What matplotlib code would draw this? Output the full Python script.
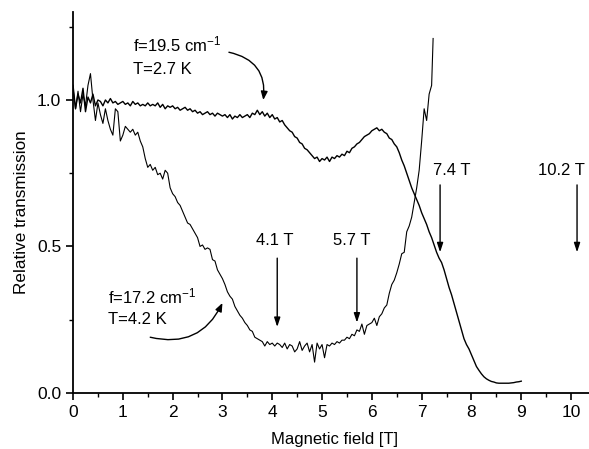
import numpy as np
import matplotlib
matplotlib.use("Agg")
import matplotlib.pyplot as plt

plt.rcParams['font.family'] = ['Liberation Sans', 'DejaVu Sans']
plt.rcParams['mathtext.fontset'] = 'custom'
plt.rcParams['mathtext.rm'] = 'Liberation Sans'
plt.rcParams['mathtext.it'] = 'Liberation Sans:italic'
plt.rcParams['mathtext.bf'] = 'Liberation Sans:bold'

# ---- data ----
# f = 19.5 cm^-1, T = 2.7 K ; field 0 .. 9.0 T in 0.05 T steps
field_a = np.round(np.arange(0, 9.001, 0.05), 2)
trans_a = [
    1.05, 0.97, 1.02, 0.99, 1.04, 0.96, 1.01, 0.99, 1.02, 0.98,
    1.00, 0.995, 0.98, 1.00, 0.99, 1.005, 0.99, 0.995, 0.985, 0.99,
    0.995, 0.985, 0.99, 0.98, 0.995, 0.985, 0.99, 0.98, 0.985, 0.98,
    0.99, 0.98, 0.985, 0.98, 0.99, 0.975, 0.985, 0.97, 0.98, 0.975,
    0.98, 0.97, 0.975, 0.965, 0.97, 0.975, 0.965, 0.97, 0.96, 0.965,
    0.955, 0.96, 0.95, 0.955, 0.96, 0.95, 0.955, 0.945, 0.955, 0.95,
    0.945, 0.95, 0.94, 0.95, 0.935, 0.945, 0.94, 0.95, 0.94, 0.945,
    0.95, 0.94, 0.955, 0.95, 0.965, 0.95, 0.96, 0.945, 0.955, 0.94,
    0.95, 0.935, 0.94, 0.925, 0.93, 0.915, 0.905, 0.895, 0.89, 0.875,
    0.87, 0.855, 0.85, 0.835, 0.83, 0.82, 0.81, 0.80, 0.805, 0.79,
    0.80, 0.795, 0.805, 0.79, 0.805, 0.80, 0.81, 0.805, 0.815, 0.81,
    0.825, 0.82, 0.835, 0.84, 0.85, 0.855, 0.865, 0.875, 0.88, 0.885,
    0.895, 0.90, 0.905, 0.895, 0.90, 0.89, 0.885, 0.87, 0.865, 0.85,
    0.84, 0.82, 0.795, 0.775, 0.75, 0.725, 0.70, 0.68, 0.66, 0.64,
    0.615, 0.595, 0.575, 0.55, 0.53, 0.505, 0.48, 0.46, 0.445, 0.42,
    0.39, 0.36, 0.335, 0.305, 0.275, 0.245, 0.215, 0.185, 0.165, 0.15,
    0.13, 0.11, 0.09, 0.077, 0.065, 0.055, 0.048, 0.043, 0.039, 0.037,
    0.034, 0.033, 0.033, 0.033, 0.033, 0.033, 0.034, 0.035, 0.037, 0.038,
    0.04,
]

# f = 17.2 cm^-1, T = 4.2 K ; field 0 .. 7.2 T in 0.05 T steps, plus last point
field_b = np.concatenate([np.round(np.arange(0, 7.201, 0.05), 2), [7.23]])
trans_b = [
    1.04, 0.97, 1.03, 0.96, 1.02, 0.98, 1.05, 1.09, 1.00, 0.93,
    0.99, 0.95, 0.92, 0.97, 0.93, 0.90, 0.88, 0.97, 0.96, 0.86,
    0.88, 0.91, 0.90, 0.89, 0.90, 0.88, 0.89, 0.86, 0.84, 0.80,
    0.77, 0.78, 0.76, 0.77, 0.745, 0.75, 0.73, 0.76, 0.75, 0.70,
    0.68, 0.67, 0.65, 0.64, 0.62, 0.60, 0.58, 0.575, 0.56, 0.545,
    0.53, 0.50, 0.505, 0.49, 0.495, 0.49, 0.455, 0.45, 0.42, 0.405,
    0.39, 0.37, 0.345, 0.33, 0.32, 0.295, 0.28, 0.265, 0.255, 0.24,
    0.23, 0.215, 0.21, 0.19, 0.185, 0.18, 0.175, 0.16, 0.175, 0.165,
    0.17, 0.16, 0.17, 0.165, 0.155, 0.17, 0.15, 0.165, 0.16, 0.14,
    0.15, 0.175, 0.145, 0.16, 0.17, 0.14, 0.165, 0.105, 0.17, 0.15,
    0.165, 0.12, 0.165, 0.16, 0.17, 0.165, 0.175, 0.17, 0.18, 0.18,
    0.19, 0.185, 0.20, 0.195, 0.215, 0.21, 0.235, 0.20, 0.23, 0.235,
    0.24, 0.255, 0.23, 0.26, 0.27, 0.29, 0.30, 0.34, 0.37, 0.385,
    0.41, 0.44, 0.475, 0.48, 0.55, 0.57, 0.60, 0.65, 0.70, 0.76,
    0.86, 0.97, 0.93, 1.02, 1.05,
    1.21,
]

# resonance markers
marker_fields = [4.1, 5.7, 7.4, 10.2]
marker_labels = ["4.1 T", "5.7 T", "7.4 T", "10.2 T"]

x_ticks = list(range(0, 11))
y_ticks = [0.0, 0.5, 1.0]
y_tick_labels = ["0.0", "0.5", "1.0"]

FS = 12.5

# ---- figure ----
fig = plt.figure(figsize=(5.89, 4.49), dpi=100)
ax = fig.add_axes([0.124, 0.125, 0.876, 0.848])

ax.plot(field_a, trans_a, color='black', lw=1.0)
ax.plot(field_b, trans_b, color='black', lw=0.8)

ax.set_xlim(0, 10.36)
ax.set_ylim(0, 1.30)

for s in ['top', 'right']:
    ax.spines[s].set_visible(False)
for s in ['left', 'bottom']:
    ax.spines[s].set_linewidth(1.3)

ax.set_xticks(x_ticks)
ax.set_xticks(np.arange(0.5, 10.4, 1.0), minor=True)
ax.set_yticks(y_ticks)
ax.set_yticklabels(y_tick_labels)
ax.set_yticks([0.25, 0.75, 1.25], minor=True)
ax.tick_params(which='major', direction='out', length=5, width=1.2, labelsize=FS)
ax.tick_params(which='minor', direction='out', length=3, width=1.0)

ax.set_xlabel("Magnetic field [T]", fontsize=12)
ax.set_ylabel("Relative transmission", fontsize=12.3)
ax.xaxis.set_label_coords(0.506, -0.104)
ax.yaxis.set_label_coords(-0.085, 0.475)

# curve labels
ax.text(1.21, 1.19, r"f=19.5 cm$^{-1}$", fontsize=12, ha='left', va='center')
ax.text(1.21, 1.105, "T=2.7 K", fontsize=12, ha='left', va='center')
ax.text(0.70, 0.33, r"f=17.2 cm$^{-1}$", fontsize=12, ha='left', va='center')
ax.text(0.70, 0.25, "T=4.2 K", fontsize=12, ha='left', va='center')

# curved arrows
ax.annotate("", xy=(3.82, 1.0), xytext=(3.13, 1.163),
            arrowprops=dict(arrowstyle='-|>,head_length=0.5,head_width=0.2',
                            connectionstyle='arc3,rad=-0.45', color='black', lw=1.0,
                            shrinkA=0, shrinkB=0))
ax.annotate("", xy=(3.0, 0.307), xytext=(1.55, 0.19),
            arrowprops=dict(arrowstyle='-|>,head_length=0.5,head_width=0.2',
                            connectionstyle='arc3,rad=0.4', color='black', lw=1.0,
                            shrinkA=0, shrinkB=0))

# resonance arrows
arrow_x = [4.1, 5.7, 7.37, 10.12]
arrow_top = [0.46, 0.46, 0.71, 0.71]
arrow_tip = [0.225, 0.24, 0.48, 0.48]
label_x = [4.06, 5.60, 7.6, 9.8]
label_y = [0.52, 0.52, 0.76, 0.76]
for xa, lab, yt, yb, lx, ly in zip(arrow_x, marker_labels, arrow_top,
                                   arrow_tip, label_x, label_y):
    ax.annotate("", xy=(xa, yb), xytext=(xa, yt),
                arrowprops=dict(arrowstyle='-|>,head_length=0.55,head_width=0.18',
                                color='black', lw=1.0, shrinkA=0, shrinkB=0))
    ax.text(lx, ly, lab, fontsize=12, ha='center', va='center')

fig.savefig("out.png", dpi=100)
